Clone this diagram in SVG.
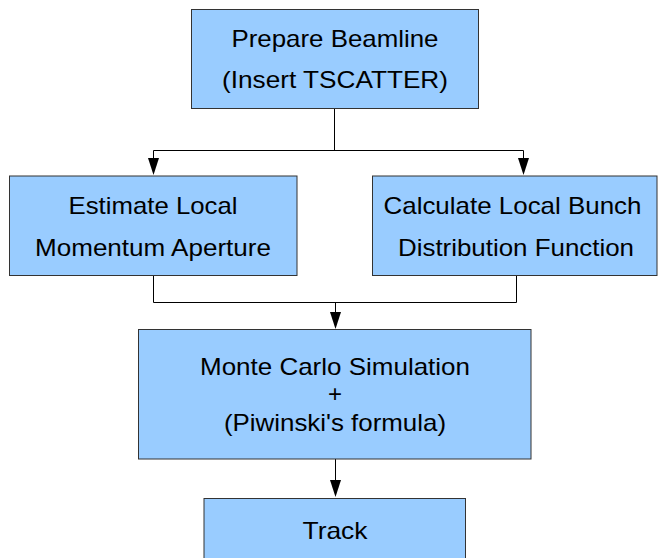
<svg xmlns="http://www.w3.org/2000/svg" width="658" height="558" viewBox="0 0 658 558">
  <style>
    .box { fill: #99ccff; stroke: #333333; stroke-width: 1; }
    .lbl { font-family: "Liberation Sans", Arial, sans-serif; font-size: 24px; fill: #000000; text-anchor: middle; }
    .wire { fill: none; stroke: #000000; stroke-width: 1; }
    .head { fill: #000000; }
  </style>
  <defs>
    <path id="arrowhead" d="M0,0 L-5.5,-17 L5.5,-17 Z"/>
  </defs>
  <rect width="658" height="558" fill="#ffffff"/>

  <g id="connectors">
    <path class="wire" d="M334.5,108.5 V150.5 M153.5,150.5 H523.5 M153.5,150.5 V160 M523.5,150.5 V160"/>
    <use href="#arrowhead" class="head" x="153.5" y="175"/>
    <use href="#arrowhead" class="head" x="523.5" y="175"/>
    <path class="wire" d="M153.5,276 V302.5 H516.5 V276 M335.5,302.5 V314"/>
    <use href="#arrowhead" class="head" x="335.5" y="329"/>
    <path class="wire" d="M335.5,459 V482"/>
    <use href="#arrowhead" class="head" x="335.5" y="497"/>
  </g>

  <g id="prepare-beamline">
    <rect class="box" x="191.5" y="9.5" width="287" height="99"/>
    <text class="lbl" x="335" y="46.5" textLength="207" lengthAdjust="spacingAndGlyphs">Prepare Beamline</text>
    <text class="lbl" x="335" y="87.5" textLength="226" lengthAdjust="spacingAndGlyphs">(Insert TSCATTER)</text>
  </g>

  <g id="estimate-momentum-aperture">
    <rect class="box" x="9.5" y="176" width="287.5" height="99.5"/>
    <text class="lbl" x="153" y="213.5" textLength="169" lengthAdjust="spacingAndGlyphs">Estimate Local</text>
    <text class="lbl" x="153" y="255.5" textLength="236" lengthAdjust="spacingAndGlyphs">Momentum Aperture</text>
  </g>

  <g id="bunch-distribution">
    <rect class="box" x="372.5" y="176" width="284.5" height="99.5"/>
    <text class="lbl" x="512.5" y="213.5" textLength="258" lengthAdjust="spacingAndGlyphs">Calculate Local Bunch</text>
    <text class="lbl" x="516" y="255.5" textLength="236" lengthAdjust="spacingAndGlyphs">Distribution Function</text>
  </g>

  <g id="monte-carlo">
    <rect class="box" x="138.5" y="329.5" width="392.5" height="129.5"/>
    <text class="lbl" x="335" y="374.5" textLength="270" lengthAdjust="spacingAndGlyphs">Monte Carlo Simulation</text>
    <text class="lbl" x="335" y="402">+</text>
    <text class="lbl" x="335" y="430.5" textLength="222" lengthAdjust="spacingAndGlyphs">(Piwinski's formula)</text>
  </g>

  <g id="track">
    <rect class="box" x="204" y="498.5" width="261.5" height="70"/>
    <text class="lbl" x="335" y="538.5" textLength="65" lengthAdjust="spacingAndGlyphs">Track</text>
  </g>
</svg>
